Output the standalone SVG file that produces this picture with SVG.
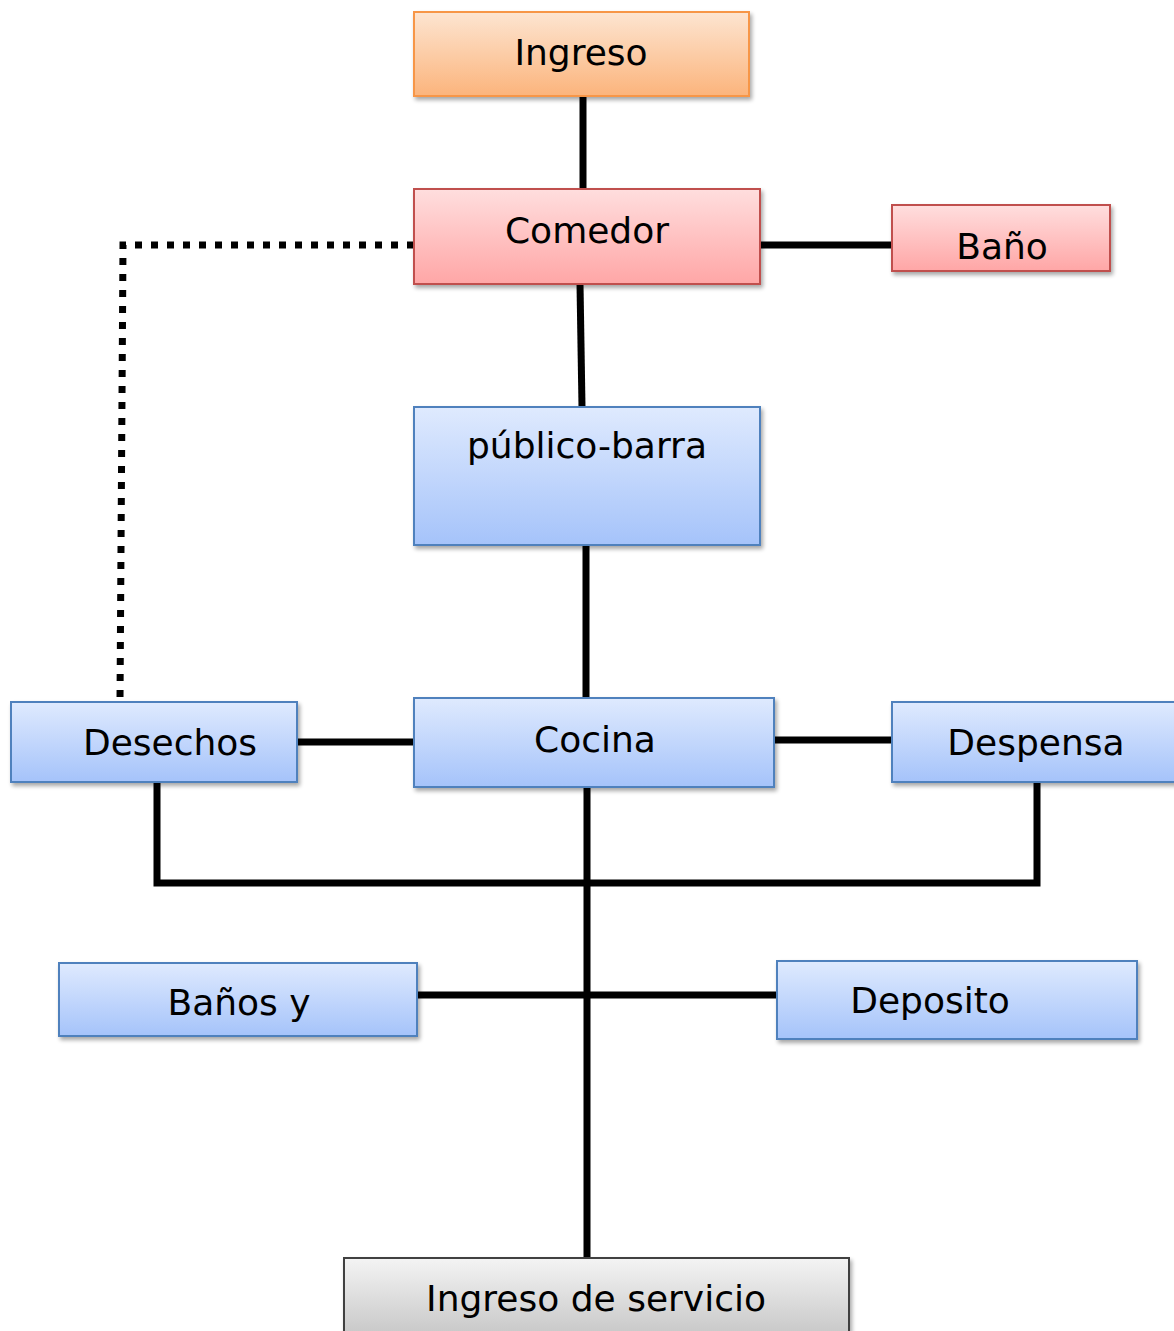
<svg xmlns="http://www.w3.org/2000/svg" width="1174" height="1331" viewBox="0 0 1174 1331">
  <style>
    .lbl { font-family: "Comic Sans MS", "DejaVu Sans", "Noto Sans", sans-serif; font-size: 36px; fill: #000; text-anchor: middle; }
    .box { stroke-width: 2; filter: url(#shadow); }
    .orange { fill: url(#gOrange); stroke: #f79646; }
    .red { fill: url(#gRed); stroke: #c0504d; }
    .blue { fill: url(#gBlue); stroke: #4f81bd; }
    .gray { fill: url(#gGray); stroke: #3f3f3f; }
    .wire { stroke: #000; stroke-width: 7; fill: none; }
    .dots { stroke: #000; stroke-width: 7; fill: none; stroke-dasharray: 7 9; }
  </style>
  <defs>
    <linearGradient id="gOrange" x1="0" y1="0" x2="0" y2="1">
      <stop offset="0" stop-color="#fde5d1"/>
      <stop offset="1" stop-color="#fbb47c"/>
    </linearGradient>
    <linearGradient id="gRed" x1="0" y1="0" x2="0" y2="1">
      <stop offset="0" stop-color="#ffdede"/>
      <stop offset="1" stop-color="#ffa6a6"/>
    </linearGradient>
    <linearGradient id="gBlue" x1="0" y1="0" x2="0" y2="1">
      <stop offset="0" stop-color="#dfeafe"/>
      <stop offset="1" stop-color="#a5c3fa"/>
    </linearGradient>
    <linearGradient id="gGray" x1="0" y1="0" x2="0" y2="1">
      <stop offset="0" stop-color="#f4f4f4"/>
      <stop offset="1" stop-color="#c6c6c6"/>
    </linearGradient>
    <filter id="shadow" x="-5%" y="-10%" width="115%" height="130%">
      <feGaussianBlur in="SourceAlpha" stdDeviation="2"/>
      <feOffset dx="2" dy="3" result="b"/>
      <feComponentTransfer><feFuncA type="linear" slope="0.35"/></feComponentTransfer>
      <feMerge><feMergeNode/><feMergeNode in="SourceGraphic"/></feMerge>
    </filter>
  </defs>

  <rect width="1174" height="1331" fill="#fff"/>

  <!-- connectors -->
  <g id="connectors">
    <line class="wire" x1="583" y1="96" x2="583" y2="189"/>
    <line class="wire" x1="760" y1="245" x2="892" y2="245"/>
    <line class="wire" x1="580" y1="284" x2="582" y2="407"/>
    <line class="wire" x1="586" y1="545" x2="586" y2="698"/>
    <line class="wire" x1="297" y1="742" x2="414" y2="742"/>
    <line class="wire" x1="774" y1="740" x2="892" y2="740"/>
    <line class="wire" x1="587" y1="787" x2="587" y2="1258"/>
    <polyline class="wire" points="157,782 157,883 1037,883 1037,782"/>
    <line class="wire" x1="417" y1="995" x2="777" y2="995"/>
    <polyline class="dots" points="414,245 123,245 120,700"/>
  </g>

  <g id="ingreso">
    <rect class="box orange" x="414" y="12" width="335" height="84"/>
    <text class="lbl" x="581" y="65">Ingreso</text>
  </g>
  <g id="comedor">
    <rect class="box red" x="414" y="189" width="346" height="95"/>
    <text class="lbl" x="587" y="243">Comedor</text>
  </g>
  <g id="bano">
    <rect class="box red" x="892" y="205" width="218" height="66"/>
    <text class="lbl" x="1002" y="259">Baño</text>
  </g>
  <g id="publico-barra">
    <rect class="box blue" x="414" y="407" width="346" height="138"/>
    <text class="lbl" x="587" y="458">público-barra</text>
  </g>
  <g id="desechos">
    <rect class="box blue" x="11" y="702" width="286" height="80"/>
    <text class="lbl" x="170" y="755">Desechos</text>
  </g>
  <g id="cocina">
    <rect class="box blue" x="414" y="698" width="360" height="89"/>
    <text class="lbl" x="595" y="752">Cocina</text>
  </g>
  <g id="despensa">
    <rect class="box blue" x="892" y="702" width="290" height="80"/>
    <text class="lbl" x="1036" y="755">Despensa</text>
  </g>
  <g id="banos-y">
    <rect class="box blue" x="59" y="963" width="358" height="73"/>
    <text class="lbl" x="239" y="1015">Baños y</text>
  </g>
  <g id="deposito">
    <rect class="box blue" x="777" y="961" width="360" height="78"/>
    <text class="lbl" x="930" y="1013">Deposito</text>
  </g>
  <g id="ingreso-servicio">
    <rect class="box gray" x="344" y="1258" width="505" height="80"/>
    <text class="lbl" x="596" y="1311">Ingreso de servicio</text>
  </g>
</svg>
